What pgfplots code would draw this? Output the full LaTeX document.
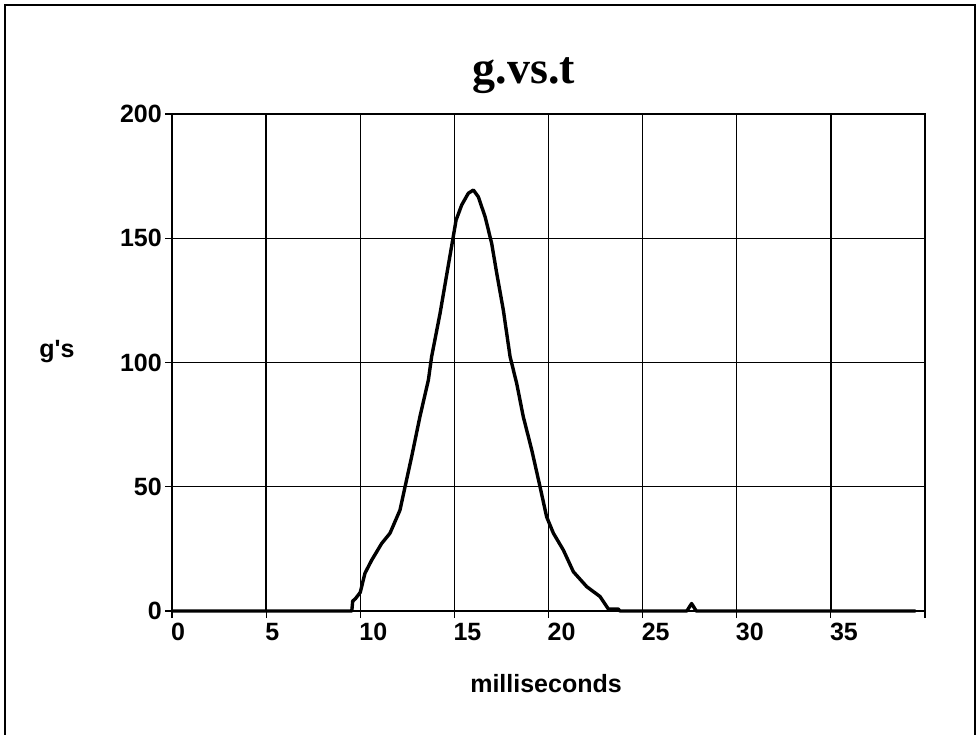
\documentclass[border=0pt]{standalone}
\usepackage{fontspec}
\setmainfont{Liberation Sans}
\newfontfamily\titlefont{Liberation Serif}
\usepackage{pgfplots}
\pgfplotsset{compat=1.18}
\begin{document}
\begin{tikzpicture}[x=1pt,y=1pt]
\useasboundingbox (0,0) rectangle (979,-735);
\draw[line width=2pt] (5,-745) -- (5,-5) -- (975,-5) -- (975,-745);
\begin{axis}[
  at={(172pt,-611pt)}, anchor=south west,
  scale only axis, width=753pt, height=497pt,
  xmin=0, xmax=40, ymin=0, ymax=200,
  xtick={0,5,...,40}, xticklabels={0,5,10,15,20,25,30,35,{}},
  ytick={0,50,...,200},
  grid=major, grid style={black, line width=1.3pt},
  axis line style={black, line width=1.8pt},
  tick align=outside, tick pos=left, major tick length=7pt,
  tick style={black, line width=1.2pt},
  /pgf/number format/assume math mode=true,
  ticklabel style={font=\bfseries\fontsize{25}{25}\selectfont},
  xticklabel style={anchor=north west, inner sep=0pt, xshift=-1pt, yshift=-5pt},
  yticklabel style={anchor=east, inner sep=0pt, xshift=-3pt},
  clip=false,
]
\addplot[black, line width=3.4pt, line join=round] coordinates {
(0,0) (9.55,0) (9.6,4) (9.75,5) (10.0,7.5) (10.25,15.2) (10.61,20.5) (11.14,27.2) (11.58,31.3)
(12.11,40.6) (12.38,50) (12.73,62.1) (13.17,78.2) (13.62,93) (13.79,102.3)
(14.24,119.8) (14.68,139.2) (14.94,150.6) (15.09,157.3) (15.39,163.4) (15.74,168.1)
(16.01,169.4) (16.27,166.7) (16.63,158.7) (16.98,148) (17.25,135.9) (17.6,121.1)
(17.96,102.3) (18.31,91.6) (18.66,78.2) (19.11,64.8) (19.55,50) (19.9,37.9)
(20.26,31.3) (20.79,24.5) (21.32,15.8) (22.03,9.8) (22.74,5.8) (23.18,0.8) (23.7,0.8)
(23.8,0) (27.35,0) (27.6,3) (27.85,0) (39.5,0)
};
\end{axis}
\node[anchor=base, font=\titlefont\bfseries\fontsize{46}{46}\selectfont] at (524,-84) {g.vs.t};
\node[anchor=base, font=\bfseries\fontsize{25}{25}\selectfont] at (546,-692) {milliseconds};
\node[anchor=base, font=\bfseries\fontsize{25}{25}\selectfont] at (57,-357) {g\textquotesingle s};
\end{tikzpicture}
\end{document}
